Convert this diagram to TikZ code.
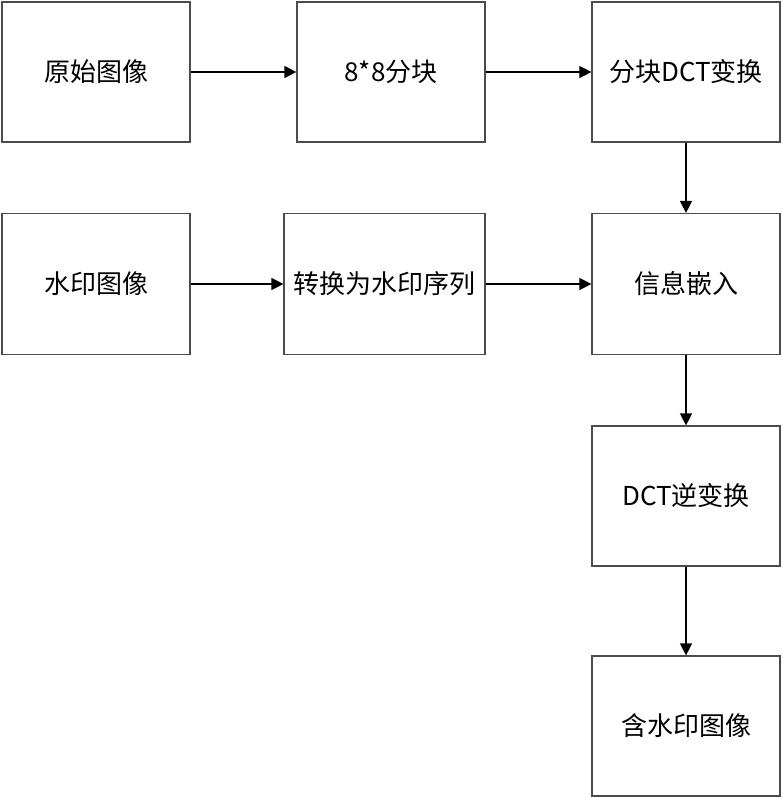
\documentclass[tikz,border=0pt]{standalone}
\usepackage{fontspec}
\setmainfont{Noto Sans CJK SC}
\usetikzlibrary{arrows.meta}
\begin{document}
\begin{tikzpicture}[x=1pt,y=-1pt,
  stepbox/.style={draw=black!70,line width=1.2pt,fill=white,inner sep=0pt,
    font=\fontsize{26}{30}\selectfont},
  flow/.style={draw=black,line width=1.4pt,-{Triangle[length=12pt,width=12pt]}}]
\useasboundingbox[fill=white] (0,0) rectangle (782,798);
% top row
\node[stepbox,minimum width=188pt,minimum height=140pt] (orig) at (96,72) {原始图像};
\node[stepbox,minimum width=188pt,minimum height=140pt] (blk) at (391,72) {8*8分块};
\node[stepbox,minimum width=188pt,minimum height=140pt] (dct) at (686,72) {分块DCT变换};
% second row
\node[stepbox,minimum width=188pt,minimum height=141pt] (wm) at (96,284) {水印图像};
\node[stepbox,minimum width=201pt,minimum height=141pt] (seq) at (384.5,284) {转换为水印序列};
\node[stepbox,minimum width=188pt,minimum height=141pt] (emb) at (686,284) {信息嵌入};
% right column
\node[stepbox,minimum width=188pt,minimum height=140pt] (idct) at (686,496) {DCT逆变换};
\node[stepbox,minimum width=188pt,minimum height=140pt] (out) at (686,726) {含水印图像};
% connectors
\draw[flow] (orig) -- (blk);
\draw[flow] (blk) -- (dct);
\draw[flow] (dct) -- (emb);
\draw[flow] (wm) -- (seq);
\draw[flow] (seq) -- (emb);
\draw[flow] (emb) -- (idct);
\draw[flow] (idct) -- (out);
\end{tikzpicture}
\end{document}
